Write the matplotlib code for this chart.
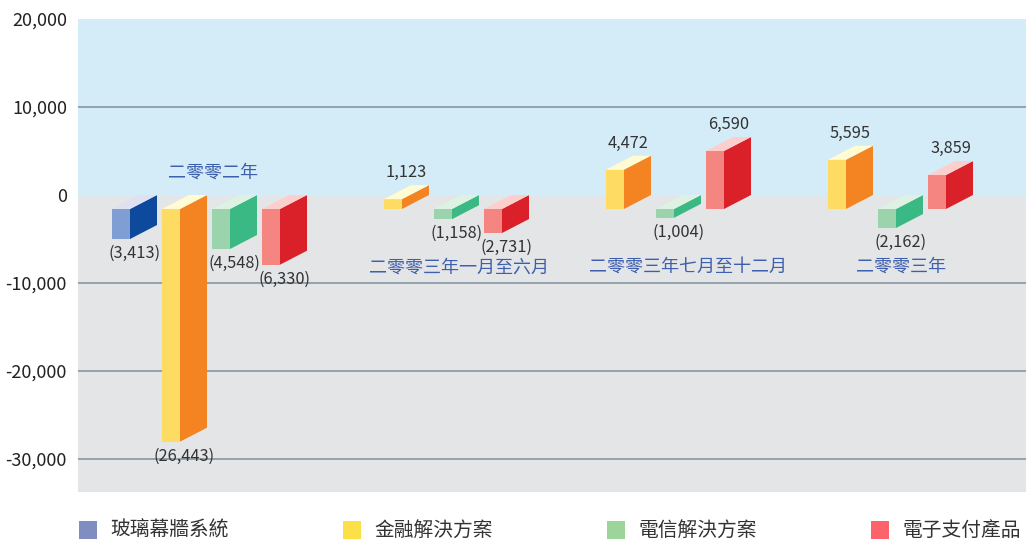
import matplotlib.pyplot as plt
from matplotlib.patches import Polygon, Rectangle

plt.rcParams['font.family'] = ['Noto Sans CJK TC', 'DejaVu Sans']

# data (HK$'000)
groups = ['二零零二年', '二零零三年一月至六月', '二零零三年七月至十二月', '二零零三年']
series = ['玻璃幕牆系統', '金融解決方案', '電信解決方案', '電子支付產品']
glass = [-3413, None, None, None]
finance = [-26443, 1123, 4472, 5595]
telecom = [-4548, -1158, -1004, -2162]
payment = [-6330, -2731, 6590, 3859]
values = [glass, finance, telecom, payment]

# colours: front, side, top, legend
front_c = ['#7f9fd4', '#fedc64', '#9bd3ac', '#f58580']
side_c = ['#0d4a9e', '#f48322', '#3bb985', '#da2129']
top_c = ['#dfe1f2', '#fffbd2', '#def2e3', '#fccfcd']
legend_c = ['#7f8dc0', '#fde047', '#9dd49a', '#fc636b']

W, H = 1026, 544
fig = plt.figure(figsize=(W / 100, H / 100), dpi=100)
ax_l, ax_r, ax_t, ax_b = 78, 1026, 19, 492
ax = fig.add_axes([ax_l / W, 1 - ax_b / H, (ax_r - ax_l) / W, (ax_b - ax_t) / H])

px_y = 10000 / 88.0  # data units per pixel (y)
ymax = 20000
ymin = ymax - (ax_b - ax_t) * px_y
ax.set_xlim(ax_l, ax_r)
ax.set_ylim(ymin, ymax)
ax.set_facecolor('#e4e5e7')
ax.axhspan(0, ymax, color='#d4ebf8', zorder=0)
for g in [10000, -10000, -20000, -30000]:
    ax.axhline(g, color='#8c9ca8', lw=1.3, zorder=1)

bar_w = 18
dx = 27
dy = 14 * px_y
first_x = 112
slot = 50
group_gap = 222

for gi in range(len(groups)):
    for si in range(len(series)):
        v = values[si][gi]
        if v is None:
            continue
        x = first_x + gi * group_gap + si * slot
        lo, hi = min(0, v), max(0, v)
        ax.add_patch(Rectangle((x, lo - dy), bar_w, hi - lo, color=front_c[si], lw=0, zorder=3))
        ax.add_patch(Polygon([(x + bar_w, lo - dy), (x + bar_w + dx, lo), (x + bar_w + dx, hi),
                              (x + bar_w, hi - dy)], closed=True, color=side_c[si], lw=0, zorder=3))
        ax.add_patch(Polygon([(x, hi - dy), (x + dx, hi), (x + bar_w + dx, hi),
                              (x + bar_w, hi - dy)], closed=True, color=top_c[si], lw=0, zorder=3))
        cx = x + (bar_w + dx) / 2
        if v < 0:
            ax.text(cx, v - dy - 6 * px_y, '({:,})'.format(-v), ha='center', va='top',
                    fontsize=11.8, color='#333333', zorder=2)
        else:
            ax.text(cx, v + 4 * px_y, '{:,}'.format(v), ha='center', va='bottom',
                    fontsize=11.8, color='#333333', zorder=4)

# group labels
label_x = [213, 459, 688, 901]
label_y = [2500, -8200, -8200, -8200]
for gi, name in enumerate(groups):
    ax.text(label_x[gi], label_y[gi], name, ha='center', va='center', fontsize=13,
            color='#3d5fae', zorder=4)

ax.set_yticks([20000, 10000, 0, -10000, -20000, -30000])
ax.set_yticklabels(['{:,}'.format(t) for t in [20000, 10000, 0, -10000, -20000, -30000]])
ax.tick_params(axis='y', length=0, pad=8, labelsize=13, labelcolor='#222222')
ax.set_xticks([])
for s in ax.spines.values():
    s.set_visible(False)

# legend
leg_x = [79, 343, 607, 871]
for i, name in enumerate(series):
    fig.add_artist(Rectangle((leg_x[i] / W, 1 - 539 / H), 18 / W, 18 / H,
                             transform=fig.transFigure, color=legend_c[i], lw=0))
    fig.text((leg_x[i] + 31) / W, 1 - 530 / H, name, ha='left', va='center',
             fontsize=14.2, color='#333333')

fig.savefig('out.png', dpi=100)
